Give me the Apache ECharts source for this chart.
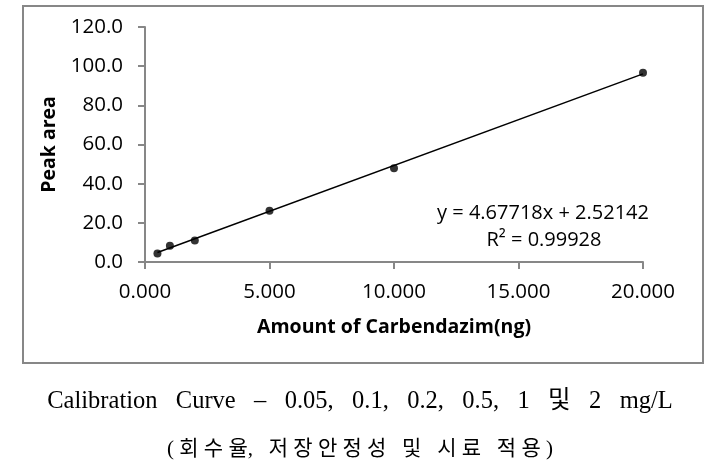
<!DOCTYPE html>
<html>
<head>
<meta charset="utf-8">
<script src="https://cdn.jsdelivr.net/npm/echarts@6/dist/echarts.min.js"></script>
<style>
html, body { margin: 0; padding: 0; background: #fff; }
#chart { width: 718px; height: 472px; }
</style>
</head>
<body>
<div id="chart"></div>
<script>
// 측정값 (Amount ng / Peak area)
var amounts = [0.5, 1, 2, 5, 10, 20];
var peakAreas = [4.4, 8.3, 11.0, 26.2, 47.9, 96.6];
// 추세선 (그림에 적힌 식)
var slope = 4.67718;
var intercept = 2.52142;
var rSquared = '0.99928';
var xTicks = [0, 5, 10, 15, 20];
var yTicks = [0, 20, 40, 60, 80, 100, 120];

var axisColor = '#878787';
var font = '"Open Sans", "Noto Sans", sans-serif';
var captionFont = '"Liberation Serif", "Noto Sans CJK KR", serif';

var points = [];
for (var i = 0; i < amounts.length; i++) {
    points.push([amounts[i], peakAreas[i]]);
}
var xFirst = amounts[0], xLast = amounts[amounts.length - 1];
var trend = [
    [xFirst, slope * xFirst + intercept],
    [xLast, slope * xLast + intercept]
];

var myChart = echarts.init(document.getElementById('chart'));
var option = {
    backgroundColor: '#fff',
    animation: false,
    grid: {
        left: 145,
        right: 75,
        top: 27,
        bottom: 210
    },
    xAxis: {
        type: 'value',
        min: xTicks[0],
        max: xTicks[xTicks.length - 1],
        interval: 5,
        name: 'Amount of Carbendazim(ng)',
        nameLocation: 'middle',
        nameGap: 55,
        nameTextStyle: { color: '#000', fontSize: 19.5, fontWeight: 'bold', fontFamily: font },
        axisLine: { show: true, lineStyle: { color: axisColor, width: 2 } },
        axisTick: { show: true, length: 7, lineStyle: { color: axisColor, width: 2 } },
        axisLabel: {
            color: '#000', fontSize: 20.5, fontFamily: font, margin: 20,
            formatter: function (v) { return v.toFixed(3); }
        },
        splitLine: { show: false }
    },
    yAxis: {
        type: 'value',
        min: yTicks[0],
        max: yTicks[yTicks.length - 1],
        interval: 20,
        name: 'Peak area',
        nameLocation: 'middle',
        nameGap: 86,
        nameRotate: 90,
        nameTextStyle: { color: '#000', fontSize: 19.5, fontWeight: 'bold', fontFamily: font },
        axisLine: { show: true, lineStyle: { color: axisColor, width: 2 } },
        axisTick: { show: true, length: 7, lineStyle: { color: axisColor, width: 2 } },
        axisLabel: {
            color: '#000', fontSize: 20.5, fontFamily: font, margin: 22,
            formatter: function (v) { return v.toFixed(1); }
        },
        splitLine: { show: false }
    },
    series: [
        {
            type: 'line',
            data: trend,
            symbol: 'none',
            lineStyle: { color: '#000', width: 1.5 },
            z: 2
        },
        {
            type: 'scatter',
            data: points,
            symbol: 'circle',
            symbolSize: 8,
            itemStyle: { color: '#000' },
            z: 3
        }
    ],
    graphic: [
        {
            type: 'rect',
            shape: { x: 23, y: 6, width: 680, height: 357 },
            style: { fill: 'none', stroke: axisColor, lineWidth: 2 },
            silent: true
        },
        {
            type: 'text',
            x: 543, y: 213,
            style: {
                text: 'y = ' + slope + 'x + ' + intercept,
                fill: '#000', font: '20px ' + font,
                align: 'center', verticalAlign: 'middle'
            }
        },
        {
            type: 'text',
            x: 544, y: 240,
            style: {
                text: 'R² = ' + rSquared,
                fill: '#000', font: '20px ' + font,
                align: 'center', verticalAlign: 'middle'
            }
        },
        {
            type: 'text',
            x: 360, y: 402,
            style: {
                text: 'Calibration   Curve   –   0.05,   0.1,   0.2,   0.5,   1   및   2   mg/L',
                fill: '#000', font: '24.5px ' + captionFont,
                align: 'center', verticalAlign: 'middle'
            }
        },
        {
            type: 'text',
            x: 360, y: 449,
            style: {
                text: '( 회 수 율,   저 장 안 정 성   및   시 료   적 용 )',
                fill: '#000', font: '21px ' + captionFont,
                align: 'center', verticalAlign: 'middle'
            }
        }
    ]
};
myChart.setOption(option, true);
</script>
</body>
</html>
